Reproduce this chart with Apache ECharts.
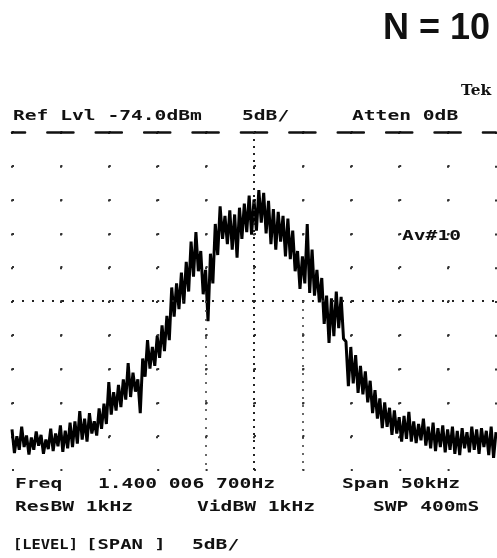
<!DOCTYPE html>
<html>
<head>
<meta charset="utf-8">
<title>N = 10</title>
<script src="https://cdn.jsdelivr.net/npm/echarts@6/dist/echarts.min.js"></script>
<style>
  html, body { margin: 0; padding: 0; background: #fff; }
  #chart { width: 497px; height: 558px; }
</style>
</head>
<body>
<div id="chart"></div>
<script>
// Spectrum analyzer display: 10 averaged sweeps around 1.400 006 700 GHz.
const chartTitle = 'N = 10';

// Screen scale: reference level at the top, 5 dB per division, 10 divisions.
const refLevelDbm = -74;
const dbPerDiv = 5;
const verticalDivs = 10;

// Horizontal: 50 kHz span, 5 kHz per division, shown as offset from centre.
const spanKHz = 50;
const kHzPerDiv = 5;

// Sweep samples (dBm), first sample at -25 kHz, one every 0.25 kHz.
const traceStartKHz = -25;
const traceStepKHz = 0.25;
const traceDbm = [
  -118.0, -121.5, -119.0, -121.0, -117.6, -120.6, -118.9, -121.7,
  -119.2, -121.0, -118.3, -120.4, -118.8, -121.6, -119.5, -120.9,
  -117.9, -121.2, -118.6, -120.5, -117.4, -121.3, -118.2, -120.8,
  -117.0, -120.6, -116.8, -120.1, -115.3, -119.5, -116.4, -119.8,
  -115.6, -118.6, -116.8, -118.9, -114.9, -117.9, -114.2, -117.2,
  -111.0, -115.8, -112.5, -115.2, -111.4, -114.7, -110.6, -113.6,
  -108.2, -113.2, -109.6, -112.4, -110.6, -115.6, -107.5, -110.2,
  -104.8, -109.0, -105.8, -108.6, -104.2, -107.4, -102.6, -106.4,
  -101.2, -104.8, -97.0, -101.3, -96.4, -100.2, -94.8, -99.4,
  -93.2, -97.6, -90.2, -95.4, -88.8, -94.6, -91.6, -98.0,
  -94.4, -102.0, -92.0, -96.4, -87.6, -92.2, -85.0, -89.8,
  -86.4, -90.6, -85.6, -91.4, -86.2, -92.6, -85.2, -89.8,
  -84.6, -88.8, -83.4, -89.2, -84.0, -88.6, -82.6, -87.4,
  -83.0, -89.0, -84.2, -90.6, -85.4, -91.4, -85.8, -90.2,
  -86.4, -92.4, -86.8, -92.8, -88.6, -94.6, -91.6, -97.2,
  -92.4, -96.4, -87.6, -97.8, -91.4, -98.2, -94.4, -99.2,
  -95.6, -102.4, -98.2, -105.2, -98.6, -104.2, -97.6, -103.0,
  -98.4, -104.6, -105.0, -111.6, -105.8, -111.2, -107.0, -112.6,
  -108.6, -112.8, -109.4, -114.0, -110.8, -115.6, -112.2, -116.4,
  -113.4, -117.8, -114.0, -117.6, -114.8, -118.8, -115.2, -118.6,
  -116.2, -119.8, -116.0, -119.4, -115.4, -119.8, -116.8, -120.0,
  -117.2, -119.6, -116.4, -120.4, -117.6, -120.8, -117.0, -121.2,
  -117.8, -120.6, -117.4, -121.4, -118.0, -121.0, -117.6, -121.6,
  -118.2, -121.8, -117.8, -120.8, -118.4, -121.4, -117.6, -121.0,
  -118.0, -121.6, -117.8, -120.6, -118.2, -121.8, -117.6, -122.2,
  -118.4
];

// On-screen readouts.
const headerLeft = 'Ref Lvl -74.0dBm';
const headerMid = '5dB/';
const headerRight = 'Atten 0dB';
const averageTag = 'Av#10';
const brandTag = 'Tek';
const freqLabel = 'Freq';
const freqValue = '1.400 006 700Hz';
const spanText = 'Span 50kHz';
const resBwText = 'ResBW 1kHz';
const vidBwText = 'VidBW 1kHz';
const sweepText = 'SWP 400mS';
const levelKey = '[LEVEL]';
const spanKey = '[SPAN ]';
const scaleText = '5dB/';

const bottomDbm = refLevelDbm - dbPerDiv * verticalDivs;
const centreDbm = refLevelDbm - dbPerDiv * verticalDivs / 2;

const traceData = traceDbm.map((v, i) => [traceStartKHz + i * traceStepKHz, v]);

// Graticule geometry (pixels)
const gridLeft = 12, gridRight = 1, gridTop = 132, gridBottom = 88;
const plotW = 497 - gridLeft - gridRight;
const plotH = 558 - gridTop - gridBottom;
const divW = plotW / (spanKHz / kHzPerDiv);
const divH = plotH / verticalDivs;

const ink = '#111';
const screenFont = 'bold 14px "DejaVu Sans Mono", monospace';

function readout(text, x, y, stretch) {
  return {
    type: 'text', x: x, y: y, scaleX: stretch || 1.4, silent: true,
    style: { text: text, font: screenFont, fill: ink, textAlign: 'left', textVerticalAlign: 'middle' }
  };
}

const chart = echarts.init(document.getElementById('chart'), null, { renderer: 'canvas' });

chart.setOption({
  animation: false,
  backgroundColor: '#ffffff',
  title: {
    text: chartTitle,
    right: 2, top: 6,
    textStyle: { fontFamily: '"Liberation Sans", Arial, sans-serif', fontSize: 36, fontWeight: 'bold', color: ink }
  },
  grid: { left: gridLeft, right: gridRight, top: gridTop, bottom: gridBottom, containLabel: false },
  xAxis: {
    type: 'value',
    position: 'top',
    min: -spanKHz / 2, max: spanKHz / 2, interval: kHzPerDiv,
    axisLine: {
      show: true, onZero: false,
      lineStyle: { color: ink, width: 2.5, type: [divW * 0.54, divW * 0.46], dashOffset: divW * 0.27 }
    },
    axisTick: { show: false },
    axisLabel: { show: false },
    splitLine: {
      show: true,
      lineStyle: { color: '#333', width: 2, type: [2, divH - 2] }
    }
  },
  yAxis: {
    type: 'value',
    min: bottomDbm, max: refLevelDbm, interval: dbPerDiv,
    axisLine: { show: false },
    axisTick: { show: false },
    axisLabel: { show: false },
    splitLine: {
      show: true,
      lineStyle: { color: '#333', width: 2, type: [2, divW - 2] }
    }
  },
  series: [
    {
      type: 'line',
      data: traceData,
      showSymbol: false,
      symbol: 'none',
      silent: true,
      lineStyle: { color: '#000', width: 3, join: 'bevel' },
      markLine: {
        silent: true,
        symbol: 'none',
        label: { show: false },
        data: [
          [
            { coord: [-spanKHz / 2, centreDbm], lineStyle: { color: '#222', width: 2, type: [2, 8] } },
            { coord: [spanKHz / 2, centreDbm] }
          ],
          [
            { coord: [0, refLevelDbm], lineStyle: { color: '#222', width: 2, type: [2, 5] } },
            { coord: [0, bottomDbm] }
          ],
          [
            { coord: [-kHzPerDiv, centreDbm], lineStyle: { color: '#444', width: 1.6, type: [2, 7] } },
            { coord: [-kHzPerDiv, bottomDbm] }
          ],
          [
            { coord: [kHzPerDiv, centreDbm], lineStyle: { color: '#444', width: 1.6, type: [2, 6] } },
            { coord: [kHzPerDiv, bottomDbm] }
          ]
        ]
      }
    }
  ],
  graphic: [
    readout(headerLeft, 13, 116),
    readout(headerMid, 242, 116),
    readout(headerRight, 352, 116),
    readout(averageTag, 402, 236),
    readout(freqLabel, 15, 484),
    readout(freqValue, 98, 484),
    readout(spanText, 342, 484),
    readout(resBwText, 15, 507),
    readout(vidBwText, 197, 507),
    readout(sweepText, 373, 507),
    readout(levelKey, 13, 545, 1.1),
    readout(spanKey, 86, 545, 1.35),
    readout(scaleText, 192, 545),
    {
      type: 'text', x: 461, y: 91, silent: true, scaleX: 1.1,
      style: { text: brandTag, font: 'bold 14px "DejaVu Serif", serif', fill: ink, textAlign: 'left', textVerticalAlign: 'middle' }
    }
  ]
});
</script>
</body>
</html>
